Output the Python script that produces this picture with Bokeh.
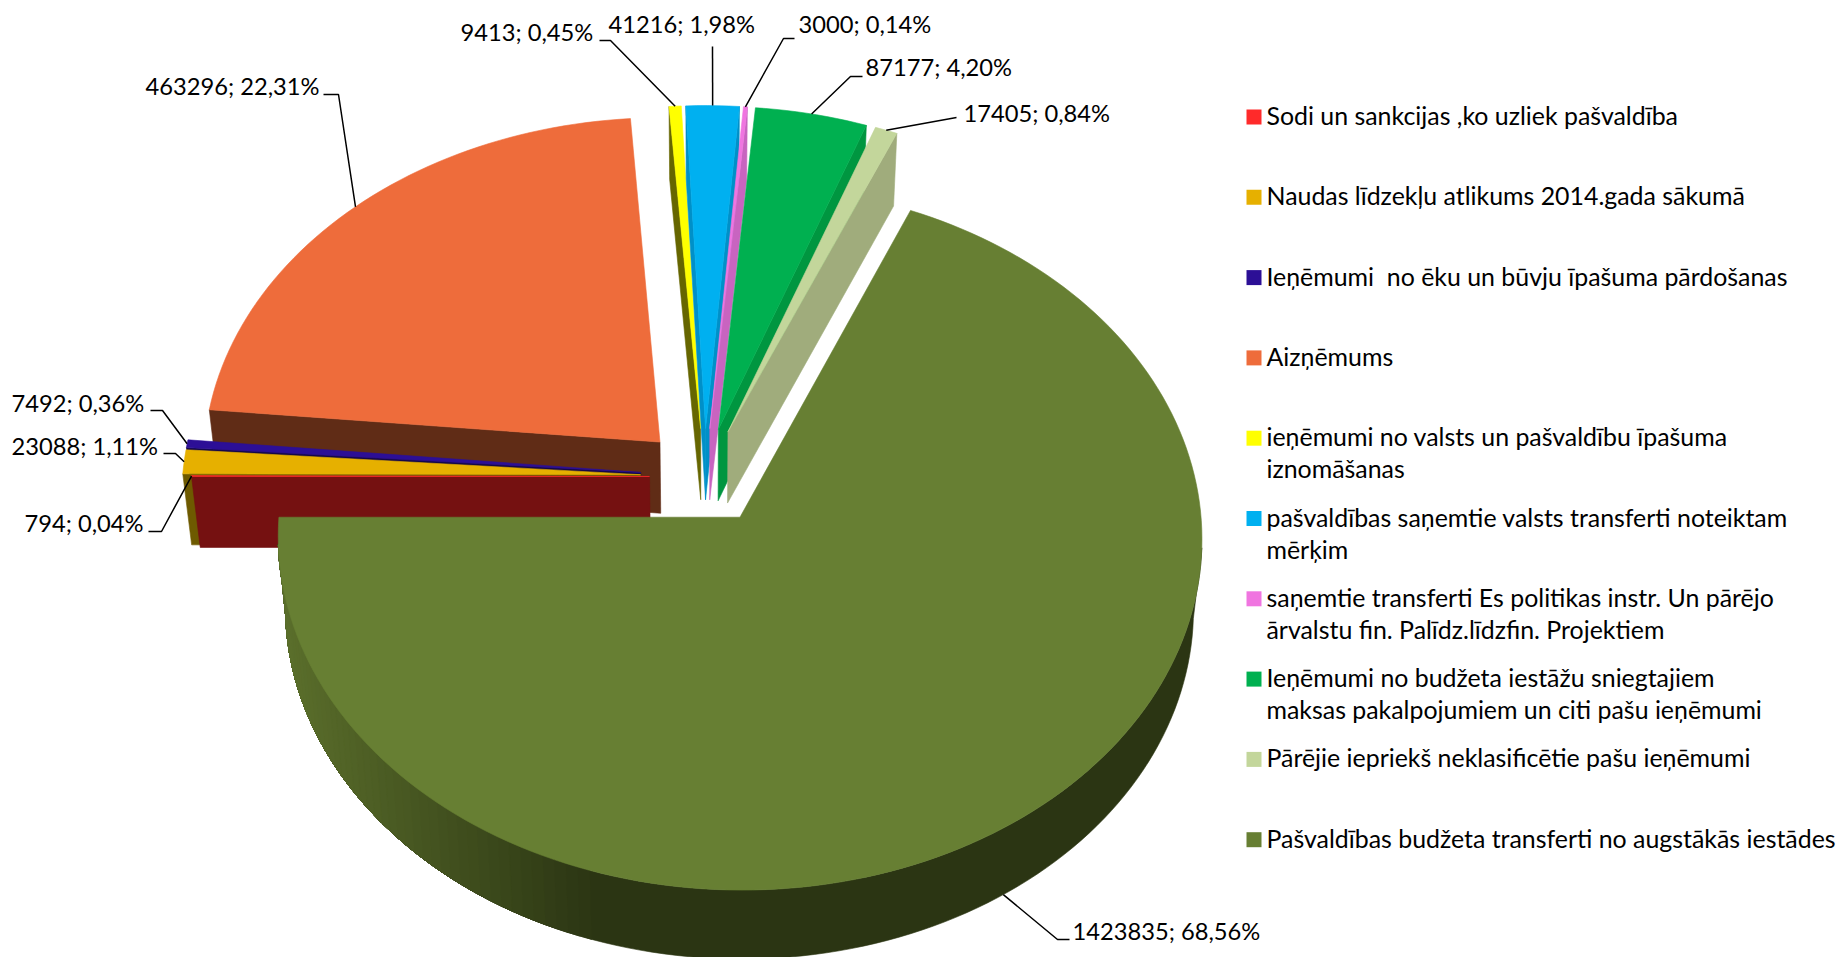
import math
from bokeh.plotting import figure
from bokeh.embed import file_html
from bokeh.resources import INLINE
from bokeh.core.properties import value

# ---------- data ----------
categories = [
    ["Sodi un sankcijas ,ko uzliek pašvaldība"],
    ["Naudas līdzekļu atlikums 2014.gada sākumā"],
    ["Ieņēmumi \u00a0no ēku un būvju īpašuma pārdošanas"],
    ["Aizņēmums"],
    ["ieņēmumi no valsts un pašvaldību īpašuma", "iznomāšanas"],
    ["pašvaldības saņemtie valsts transferti noteiktam", "mērķim"],
    ["saņemtie transferti Es politikas instr. Un pārējo", "ārvalstu fin. Palīdz.līdzfin. Projektiem"],
    ["Ieņēmumi no budžeta iestāžu sniegtajiem", "maksas pakalpojumiem un citi pašu ieņēmumi"],
    ["Pārējie iepriekš neklasificētie pašu ieņēmumi"],
    ["Pašvaldības budžeta transferti no augstākās iestādes"],
]
values = [794, 23088, 7492, 463296, 9413, 41216, 3000, 87177, 17405, 1423835]

# ---------- styles ----------
top_colors = ["#FF2A2A", "#E6B000", "#2C0F96", "#EE6C3B", "#FFFF00",
              "#00B0F0", "#F075E0", "#00B050", "#C3D69B", "#677F33"]
edge_walls = ["#751111", "#6E5A00", "#150848", "#602C16", "#666600",
              "#0090C8", "#C864C0", "#009640", "#A0AC7C", "#2B3513"]
outer_walls = ["#751111", "#6E5A00", "#150848", "#602C16", "#666600",
               "#005C80", "#C864C0", "#009640", "#A0AC7C", "#2B3513"]
OLIVE_LIGHT, OLIVE_DARK = (0x5A, 0x6E, 0x2B), (0x2B, 0x35, 0x13)
draw_order = [3, 4, 5, 6, 7, 8, 2, 1, 0, 9]

# ---------- layout (page pixels) ----------
W, H = 1839, 957
CX, CY = 704.0, 476.0
R = 458.0               # radius
explode = [55, 64, 64, 64, 64, 64, 64, 64, 64, 64]
B, K = 0.757, 1.25e-4   # tilt, perspective
DEPTH, SHRINK, SHRINK_Y = 71.0, 0.983, 0.995
START = 270.0

FONT = "Lato"
LABEL_SIZE = "23.7px"
LEGEND_SIZE = "24.9px"

legend_x_marker, legend_x_text = 1253.5, 1266
legend_top, legend_step = 116.5, 80.3
legend_text_shift = -2
LINE_STEP = 32

label_pos = [(24, 522), (11, 445), (11, 402), (145, 85), (460, 31),
             (608, 23), (798, 23), (865, 66), (963, 112), (1072, 930)]
leader_pts = [
    [(148, 531), (161, 531)],
    [(163, 453), (175, 453)],
    [(150, 410), (162, 410)],
    [(323, 94), (338, 94)],
    [(599, 40), (610, 40)],
    [(712, 46)],
    [(794, 38), (783, 38)],
    [(862, 76), (850, 76)],
    [(956, 117)],
    [(1069, 939), (1057, 939)],
]
leader_bottom = [False] * 9 + [True]


# ---------- geometry derived from the values ----------
def proj(u, v, bottom=False):
    f = 1 / (1 + K * v)
    x, y = CX + u * f, CY - B * v * f
    if bottom:
        x, y = CX + (x - CX) * SHRINK, CY + DEPTH + (y - CY) * SHRINK_Y
    return x, y


def mix(a, b, t):
    return "#%02X%02X%02X" % tuple(round(a[i] + (b[i] - a[i]) * t) for i in range(3))


total = sum(values)
CAM = (0.0, -1.0 / K)
spans = []
angle = START
for val in values:
    sweep = val / total * 360
    spans.append((angle, angle + sweep))
    angle += sweep


def apex(i):
    a0, a1 = spans[i]
    m = math.radians((a0 + a1) / 2)
    return explode[i] * math.sin(m), explode[i] * math.cos(m)


def ground(i, a):
    ap = apex(i)
    r = math.radians(a)
    return ap[0] + R * math.sin(r), ap[1] + R * math.cos(r)


xs, ys, cols = [], [], []


def add(poly, color):
    xs.append([q[0] for q in poly])
    ys.append([q[1] for q in poly])
    cols.append(color)


def faces_camera(nrm_deg, pt):
    n = math.radians(nrm_deg)
    return math.sin(n) * (CAM[0] - pt[0]) + math.cos(n) * (CAM[1] - pt[1]) > 0


def wall_band(i, alist):
    pts = [ground(i, a) for a in alist]
    return [proj(*q) for q in pts] + [proj(*q, True) for q in reversed(pts)]


for i in draw_order:
    a0, a1 = spans[i]
    n = max(2, int((a1 - a0) / 1.5) + 1)
    angs = [a0 + (a1 - a0) * j / n for j in range(n + 1)]
    ap = apex(i)
    # radial walls
    for edge, sign in ((a0, -90), (a1, 90)):
        q = ground(i, edge)
        if faces_camera(edge + sign, q):
            add([proj(*ap), proj(*q), proj(*q, True), proj(*ap, True)], edge_walls[i])
    # outer wall: the front facing part of the rim as one piece
    front = [a for a in angs if faces_camera(a, ground(i, a))]
    if len(front) >= 2:
        if i == 9:
            # rim shading: every band reaches to the end of the rim, so no seams show
            last = None
            for j in range(len(front) - 1):
                mx = proj(*ground(i, front[j]))[0]
                col = mix(OLIVE_DARK, OLIVE_LIGHT, min(1, max(0, (600 - mx) / 313)))
                if col != last:
                    add(wall_band(i, front[j:]), col)
                    last = col
        else:
            add(wall_band(i, front), outer_walls[i])
    # top face
    add([proj(*ap)] + [proj(*ground(i, a)) for a in angs], top_colors[i])

p = figure(width=W, height=H, x_range=(0, W), y_range=(H, 0),
           output_backend="svg", toolbar_location=None, min_border=0,
           outline_line_color=None, background_fill_color="white")
p.axis.visible = False
p.grid.visible = False

p.patches(xs, ys, fill_color=cols, line_color=cols, line_width=0.6)

# leaders and data labels
for i, val in enumerate(values):
    a0, a1 = spans[i]
    anchor = proj(*ground(i, (a0 + a1) / 2), leader_bottom[i])
    path = list(leader_pts[i]) + [anchor]
    p.line([c[0] for c in path], [c[1] for c in path], line_color="black", line_width=1.5)
    pct = f"{val / total * 100:.2f}".replace(".", ",")
    p.text([label_pos[i][0]], [label_pos[i][1]], text=[f"{val}; {pct}%"],
           text_font=value(FONT), text_font_size=LABEL_SIZE, text_color="black",
           text_baseline="middle", text_align="left")

# legend
for i, lines in enumerate(categories):
    row = legend_top + i * legend_step
    p.scatter([legend_x_marker], [row], marker="square", size=15,
              fill_color=top_colors[i], line_color=None)
    for j, line in enumerate(lines):
        p.text([legend_x_text], [row + legend_text_shift + j * LINE_STEP], text=[line],
               text_font=value(FONT), text_font_size=LEGEND_SIZE, text_color="black",
               text_baseline="middle", text_align="left")

open("out.html", "w").write(file_html(p, INLINE))
